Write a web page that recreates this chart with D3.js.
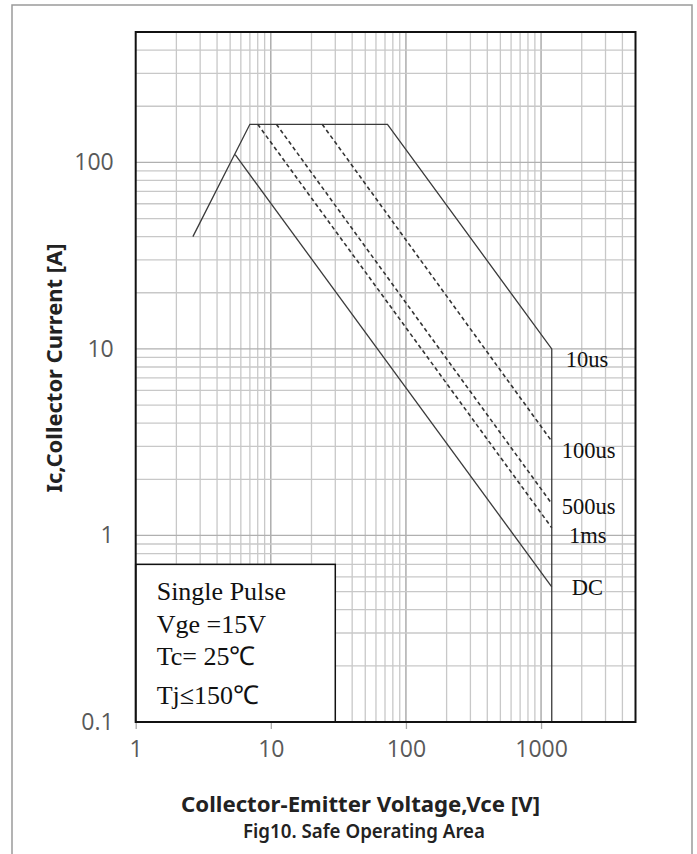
<html>
  <script src="https://d3js.org/d3.v7.min.js"></script>
  <style>
    body {
      margin: 0;
      background: white;
    }
    .tick text {
      font-family: "Open Sans", sans-serif;
      fill: #595959;
    }
  </style>
  <body>
    <svg id="chart" width="697" height="854"></svg>
    <script>
      // curve points (Vce [V], Ic [A])
      const boundaryV = [2.65, 7, 73, 1200, 1200];
      const boundaryI = [40, 160, 160, 10, 0.1];
      const dcV = [5.45, 1200];
      const dcI = [110, 0.53];
      const us100V = [24, 1200];
      const us100I = [160, 3.2];
      const us500V = [11, 1200];
      const us500I = [160, 1.48];
      const ms1V = [8, 1200];
      const ms1I = [160, 1.1];

      const curveNames = ["10us", "100us", "500us", "1ms", "DC"];
      const xTickValues = [1, 10, 100, 1000];
      const yTickValues = [0.1, 1, 10, 100];
      const boxLines = ["Single Pulse", "Vge =15V", "Tc= 25\u2103", "Tj\u2264150\u2103"];

      var plotLeft = 135.7,
        plotRight = 635.5,
        plotTop = 32,
        plotBottom = 722;

      var x = d3.scaleLog().domain([1, 5000]).range([plotLeft, plotRight]);
      var y = d3.scaleLog().domain([0.1, 500]).range([plotBottom, plotTop]);

      var svg = d3.select("#chart");

      // outer frame
      svg
        .append("rect")
        .attr("x", 12)
        .attr("y", 5)
        .attr("width", 680)
        .attr("height", 870)
        .attr("fill", "none")
        .attr("stroke", "#9a9a9a")
        .attr("stroke-width", 1.5);

      function isMajor(v) {
        var l = Math.log10(v);
        return Math.abs(l - Math.round(l)) < 1e-9;
      }

      // grid
      var grid = svg.append("g");
      grid
        .selectAll(".vx")
        .data(x.ticks().filter((v) => v > 1 && v < 5000))
        .enter()
        .append("line")
        .attr("x1", (d) => x(d))
        .attr("x2", (d) => x(d))
        .attr("y1", plotTop)
        .attr("y2", plotBottom)
        .attr("stroke", (d) => (isMajor(d) ? "#a0a0a0" : "#c8c8c8"))
        .attr("stroke-width", 1.3);
      grid
        .selectAll(".hy")
        .data(y.ticks().filter((v) => v > 0.1 && v < 500))
        .enter()
        .append("line")
        .attr("y1", (d) => y(d))
        .attr("y2", (d) => y(d))
        .attr("x1", plotLeft)
        .attr("x2", plotRight)
        .attr("stroke", (d) => (isMajor(d) ? "#b0b0b0" : "#c8c8c8"))
        .attr("stroke-width", 1.3);

      var line = d3
        .line()
        .x((d) => x(d[0]))
        .y((d) => y(d[1]));

      function pairs(vs, is) {
        return vs.map((v, i) => [v, is[i]]);
      }

      // solid curves
      [pairs(boundaryV, boundaryI), pairs(dcV, dcI)].forEach(function (pts) {
        svg
          .append("path")
          .attr("d", line(pts))
          .attr("fill", "none")
          .attr("stroke", "#3a3a3a")
          .attr("stroke-width", 1.3);
      });

      // dashed curves
      [pairs(us100V, us100I), pairs(us500V, us500I), pairs(ms1V, ms1I)].forEach(
        function (pts) {
          svg
            .append("path")
            .attr("d", line(pts))
            .attr("fill", "none")
            .attr("stroke", "#333")
            .attr("stroke-width", 1.6)
            .attr("stroke-dasharray", "4,3");
        }
      );

      // curve labels
      var labelPos = [
        [565.7, 359],
        [561.7, 450],
        [561.7, 506],
        [569, 535],
        [571.7, 587],
      ];
      svg
        .selectAll(".clab")
        .data(curveNames)
        .enter()
        .append("text")
        .attr("x", (d, i) => labelPos[i][0])
        .attr("y", (d, i) => labelPos[i][1])
        .attr("dy", "0.35em")
        .attr("font-family", "'Liberation Serif', 'Times New Roman', serif")
        .attr("font-size", 22.5)
        .attr("fill", "#111")
        .text((d) => d);

      // condition box
      svg
        .append("rect")
        .attr("x", x(1))
        .attr("y", y(0.7))
        .attr("width", x(30) - x(1))
        .attr("height", y(0.1) - y(0.7))
        .attr("fill", "white")
        .attr("stroke", "#111")
        .attr("stroke-width", 1.5);
      var baselines = [600, 633, 665, 704];
      svg
        .selectAll(".blab")
        .data(boxLines)
        .enter()
        .append("text")
        .attr("x", 156.7)
        .attr("y", (d, i) => baselines[i])
        .attr("font-family", "'Liberation Serif', 'Times New Roman', serif")
        .attr("font-size", 26)
        .attr("fill", "#111")
        .text((d) => d);

      // plot border
      svg
        .append("rect")
        .attr("x", plotLeft)
        .attr("y", plotTop)
        .attr("width", plotRight - plotLeft)
        .attr("height", plotBottom - plotTop)
        .attr("fill", "none")
        .attr("stroke", "#111")
        .attr("stroke-width", 2);

      // axes
      var xAxis = svg
        .append("g")
        .attr("transform", "translate(0," + (plotBottom + 1) + ")")
        .call(
          d3
            .axisBottom(x)
            .tickValues(xTickValues)
            .tickSize(6)
            .tickPadding(12)
            .tickFormat(d3.format("d"))
        );
      xAxis.select(".domain").remove();
      xAxis.selectAll(".tick line").attr("stroke", "#aaa").attr("stroke-width", 1.3);
      xAxis.selectAll(".tick text").attr("font-size", 23);

      var yAxis = svg
        .append("g")
        .attr("transform", "translate(" + plotLeft + ",0)")
        .call(
          d3
            .axisLeft(y)
            .tickValues(yTickValues)
            .tickSize(0)
            .tickPadding(22)
            .tickFormat((d) => (d < 1 ? "0.1" : d3.format("d")(d)))
        );
      yAxis.select(".domain").remove();
      yAxis.selectAll(".tick text").attr("font-size", 23);

      // titles
      svg
        .append("text")
        .attr("transform", "translate(62,368) rotate(-90)")
        .attr("text-anchor", "middle")
        .attr("font-family", "'Noto Sans', sans-serif")
        .attr("font-weight", "bold")
        .attr("font-size", 21)
        .attr("fill", "#222")
        .attr("textLength", 249)
        .attr("lengthAdjust", "spacingAndGlyphs")
        .text("Ic,Collector Current [A]");

      svg
        .append("text")
        .attr("x", 360.5)
        .attr("y", 811.5)
        .attr("text-anchor", "middle")
        .attr("font-family", "'Noto Sans', sans-serif")
        .attr("font-weight", "bold")
        .attr("font-size", 22)
        .attr("fill", "#222")
        .attr("textLength", 359)
        .attr("lengthAdjust", "spacingAndGlyphs")
        .text("Collector-Emitter Voltage,Vce [V]");

      svg
        .append("text")
        .attr("x", 364)
        .attr("y", 838)
        .attr("text-anchor", "middle")
        .attr("font-family", "'Noto Sans', sans-serif")
        .attr("font-weight", 600)
        .attr("font-size", 20)
        .attr("fill", "#222")
        .attr("textLength", 242)
        .attr("lengthAdjust", "spacingAndGlyphs")
        .text("Fig10. Safe Operating Area");
    </script>
  </body>
</html>
